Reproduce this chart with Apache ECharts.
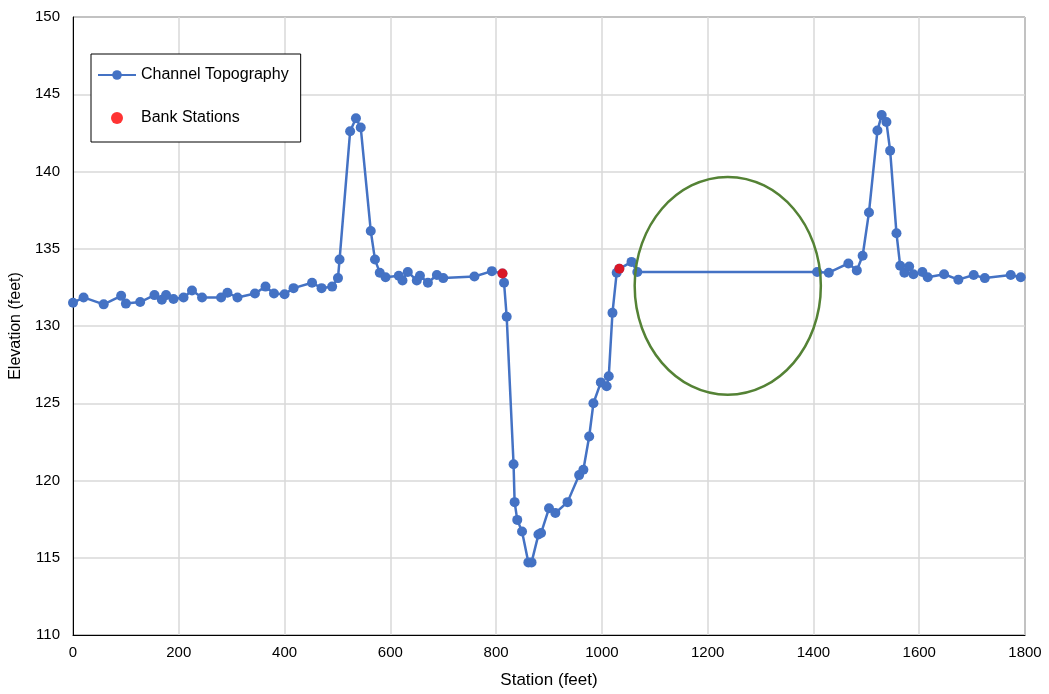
<!DOCTYPE html>
<html>
<head>
<meta charset="utf-8">
<script src="https://cdn.jsdelivr.net/npm/echarts@6/dist/echarts.min.js"></script>
<style>
  html, body { margin: 0; padding: 0; background: #fff; }
  #chart { width: 1049px; height: 694px; }
</style>
</head>
<body>
<div id="chart"></div>
<script>
// Surveyed cross-section: station (ft) and ground elevation (ft)
const stations = [
  0, 20, 58, 91, 100, 127, 154, 168, 176, 190, 209, 225, 244, 280, 292, 311,
  344, 364, 380, 400, 417, 452, 470, 490, 501, 504, 524, 535, 544, 563, 571,
  580, 591, 616, 623, 633, 650, 656, 671, 688, 700, 759, 792, 812, 815, 820,
  833, 835, 840, 849, 861, 867, 880, 885, 900, 912, 935, 957, 965, 976, 984,
  998, 1009, 1013, 1020, 1028, 1033, 1056, 1067, 1407, 1429, 1466, 1482, 1493,
  1505, 1521, 1529, 1538, 1545, 1557, 1564, 1572, 1581, 1589, 1606, 1616, 1647,
  1674, 1703, 1724, 1773, 1792
];
const elevations = [
  131.5, 131.85, 131.4, 131.95, 131.45, 131.55, 132.0, 131.7, 132.0, 131.75,
  131.85, 132.3, 131.85, 131.85, 132.15, 131.85, 132.1, 132.55, 132.1, 132.05,
  132.45, 132.8, 132.45, 132.55, 133.1, 134.3, 142.6, 143.45, 142.85, 136.15,
  134.3, 133.45, 133.15, 133.25, 132.95, 133.5, 132.95, 133.25, 132.8, 133.3,
  133.1, 133.2, 133.55, 133.4, 132.8, 130.6, 121.05, 118.6, 117.45, 116.7,
  114.7, 114.7, 116.5, 116.6, 118.2, 117.9, 118.6, 120.35, 120.7, 122.85,
  125.0, 126.35, 126.1, 126.75, 130.85, 133.45, 133.7, 134.15, 133.5, 133.5,
  133.45, 134.05, 133.6, 134.55, 137.35, 142.65, 143.65, 143.2, 141.35, 136.0,
  133.9, 133.45, 133.85, 133.35, 133.5, 133.15, 133.35, 133.0, 133.3, 133.1,
  133.3, 133.15
];

// Left and right bank stations
const bankStations = [812, 1033];
const bankElevations = [133.4, 133.7];

// Highlighted reach (ellipse, in data units)
const highlightCenter = [1238, 132.6];
const highlightRadius = [176, 7.05];

const FONT = '"Liberation Sans", Arial, sans-serif';

const chart = echarts.init(document.getElementById('chart'), null, { renderer: 'canvas' });

const option = {
  backgroundColor: '#ffffff',
  animation: false,
  grid: {
    left: 73, right: 24, top: 17, bottom: 59,
    containLabel: false,
    outerBoundsMode: 'none',
    show: true, borderColor: '#000000', borderWidth: 1
  },
  legend: {
    orient: 'vertical',
    left: 91, top: 54,
    padding: [13, 12, 16, 6],
    itemGap: 27,
    itemWidth: 38,
    itemHeight: 12,
    borderColor: '#000000',
    borderWidth: 1,
    backgroundColor: '#ffffff',
    textStyle: { fontFamily: FONT, fontSize: 16, color: '#000000' },
    data: ['Channel Topography', 'Bank Stations']
  },
  xAxis: {
    type: 'value',
    min: 0, max: 1800, interval: 200,
    name: 'Station (feet)',
    nameLocation: 'middle',
    nameGap: 37,
    nameTextStyle: { fontFamily: FONT, fontSize: 17, color: '#000000' },
    axisLine: { show: true, lineStyle: { color: '#000000', width: 1 } },
    axisTick: { show: false },
    axisLabel: {
      fontFamily: FONT, fontSize: 15, color: '#000000', margin: 10,
      formatter: (v) => String(v)
    },
    splitLine: { show: true, lineStyle: { color: '#d9d9d9', width: 1.5 } }
  },
  yAxis: {
    type: 'value',
    min: 110, max: 150, interval: 5,
    name: 'Elevation (feet)',
    nameLocation: 'middle',
    nameGap: 48,
    nameTextStyle: { fontFamily: FONT, fontSize: 16, color: '#000000' },
    axisLine: { show: true, lineStyle: { color: '#000000', width: 1 } },
    axisTick: { show: false },
    axisLabel: { fontFamily: FONT, fontSize: 15, color: '#000000', margin: 13 },
    splitLine: { show: true, lineStyle: { color: '#d9d9d9', width: 1.5 } }
  },
  series: [
    {
      name: 'Channel Topography',
      type: 'line',
      data: stations.map((s, i) => [s, elevations[i]]),
      symbol: 'circle',
      symbolSize: 10,
      lineStyle: { color: '#4472c4', width: 2.5 },
      itemStyle: { color: '#4472c4' },
      z: 2
    },
    {
      name: 'Bank Stations',
      type: 'scatter',
      data: bankStations.map((s, i) => [s, bankElevations[i]]),
      symbol: 'circle',
      symbolSize: 10,
      itemStyle: { color: '#ff0000' },
      z: 3
    }
  ]
};

chart.setOption(option);

// Outline the reach between the banks with an ellipse placed in data space
function drawHighlight() {
  const c = chart.convertToPixel({ gridIndex: 0 }, highlightCenter);
  const e = chart.convertToPixel({ gridIndex: 0 }, [
    highlightCenter[0] + highlightRadius[0],
    highlightCenter[1] + highlightRadius[1]
  ]);
  chart.setOption({
    graphic: [{
      type: 'ellipse',
      z: 10,
      shape: { cx: c[0], cy: c[1], rx: Math.abs(e[0] - c[0]), ry: Math.abs(c[1] - e[1]) },
      style: { fill: 'none', stroke: '#548235', lineWidth: 2.5 }
    }]
  });
}
drawHighlight();
</script>
</body>
</html>
